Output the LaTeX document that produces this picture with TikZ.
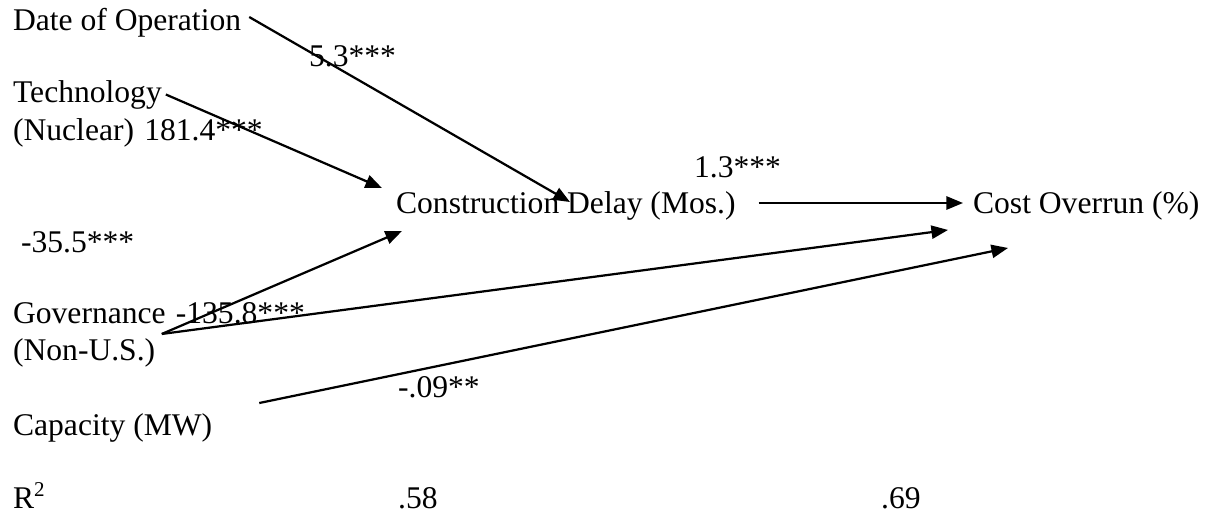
\documentclass[tikz,border=0pt]{standalone}
\usepackage{fontspec}
\setmainfont{Liberation Serif}
\usetikzlibrary{arrows.meta}
\tikzset{
    var/.style={
           inner sep=0pt,
           anchor=base west,
           font=\fontsize{12}{14}\selectfont,
           text height=8.3pt,
           text depth=2.6pt,
           },
    coef/.style={
           var,
           },
}

\begin{document}
\begin{tikzpicture}[x=0.38pt, y=-0.38pt, >={Triangle[length=6.3pt,width=5pt]}, line width=0.85pt]
   \useasboundingbox (0,0) rectangle (1206,516);
   \node[var] (date) at (12,30) {Date of Operation};
   \node[var] (tech) at (12,102) {Technology};
   \node[var] (nuc) at (12,140) {(Nuclear)};
   \node[var] (gov) at (12,323) {Governance};
   \node[var] (nonus) at (12,360) {(Non-U.S.)};
   \node[var] (cap) at (12,435) {Capacity (MW)};
   \node[var] (delay) at (395,213) {Construction Delay (Mos.)};
   \node[var] (cost) at (972,213) {Cost Overrun (\%)};

   \node[coef] (c1) at (308,66) {5.3***};
   \node[coef] (c2) at ([shift={(8,0)}]nuc.base east) {181.4***};
   \node[coef] (c3) at (20,252) {-35.5***};
   \node[coef] (c4) at ([shift={(8,0)}]gov.base east) {-135.8***};
   \node[coef] (c5) at (397,397) {-.09**};
   \node[coef] (c6) at (693,177) {1.3***};

   \node[var] (rsq) at (12,508) {R\textsuperscript{2}};
   \node[var] (r1) at (397,508) {.58};
   \node[var] (r2) at (880,508) {.69};

   \path[->]
    ([shift={(7,-5.5)}]date.east) edge ([shift={(175,-3.5)}]delay.west)
    ([shift={(3,0)}]tech.east) edge ([shift={(-13,-2)}]delay.north west)
    ([shift={(-5,3)}]gov.south east) edge ([shift={(7,10)}]delay.south west)
    ([shift={(-5,3)}]gov.south east) edge ([shift={(-24,9)}]cost.south west)
    ([shift={(46,-24.5)}]cap.east) edge ([shift={(36,27)}]cost.south west)
    ([shift={(22,-2.5)}]delay.east) edge ([shift={(-9,-2.5)}]cost.west)
       ;
\end{tikzpicture}
\end{document}
